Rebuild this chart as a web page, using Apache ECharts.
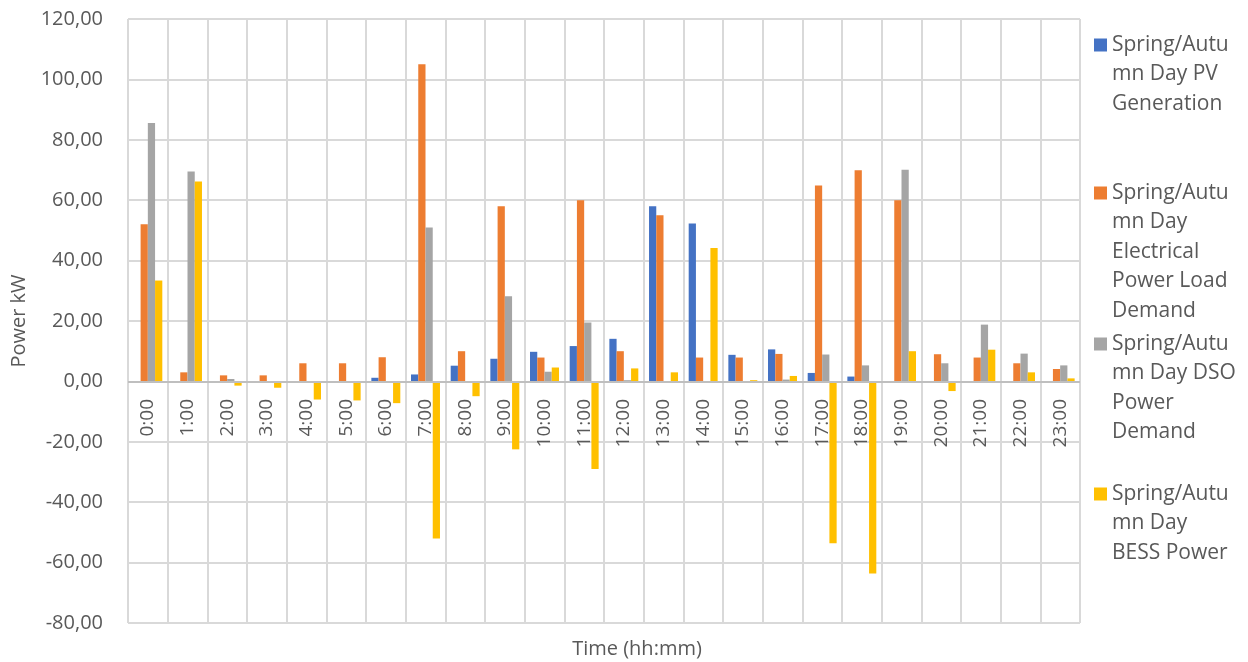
<!DOCTYPE html>
<html>
<head>
<meta charset="utf-8">
<script src="https://cdn.jsdelivr.net/npm/echarts@6/dist/echarts.min.js"></script>
<style>
html,body{margin:0;padding:0;background:#fff;}
#chart{width:1248px;height:662px;}
</style>
</head>
<body>
<div id="chart"></div>
<script>
// ---- data ----
const hours = ['0:00','1:00','2:00','3:00','4:00','5:00','6:00','7:00','8:00','9:00','10:00','11:00',
               '12:00','13:00','14:00','15:00','16:00','17:00','18:00','19:00','20:00','21:00','22:00','23:00'];
const seriesNames = ['Spring/Autumn Day PV Generation',
                     'Spring/Autumn Day Electrical Power Load Demand',
                     'Spring/Autumn Day DSO Power Demand',
                     'Spring/Autumn Day BESS Power'];
const legendLines = [
  ['Spring/Autu','mn Day PV','Generation'],
  ['Spring/Autu','mn Day','Electrical','Power Load','Demand'],
  ['Spring/Autu','mn Day DSO','Power','Demand'],
  ['Spring/Autu','mn Day','BESS Power']
];
const pvGeneration = [0,0,0,0,0,0,1.2,2.3,5.2,7.5,9.8,11.7,14.1,58.0,52.3,8.8,10.6,2.8,1.6,0,0,0,0,0];
const loadDemand   = [52.0,3.0,2.0,2.0,6.0,6.0,8.0,105.0,10.0,58.0,7.9,60.0,10.0,55.0,7.9,7.9,9.1,64.9,69.9,60.0,9.0,7.9,6.0,4.1];
const dsoDemand    = [85.6,69.5,0.8,0,0,0,0,51.0,0,28.2,3.2,19.5,0.4,0,0,0,0.6,8.9,5.3,70.1,6.0,18.8,9.2,5.3];
const bessPower    = [33.4,66.2,-1.4,-2.1,-6.0,-6.3,-7.2,-52.0,-4.9,-22.5,4.6,-29.0,4.3,3.0,44.2,0.4,1.8,-53.6,-63.6,10.0,-3.2,10.5,3.0,1.0];
const colors = ['#4472C4','#ED7D31','#A5A5A5','#FFC000'];

// ---- chart ----
const FONT = 'Open Sans';
const TXT = '#595959';
const LH = 29.5;
const legendFirstLineY = [45, 193, 344, 494];
const allData = [pvGeneration, loadDemand, dsoDemand, bessPower];

const legends = seriesNames.map((name, i) => {
  const n = legendLines[i].length;
  const blanks = new Array(n - 1).fill('');
  return {
    orient: 'vertical',
    left: 1094,
    top: legendFirstLineY[i] - (n - 0.5) * LH,
    padding: 0,
    icon: 'rect',
    itemWidth: 13,
    itemHeight: 13,
    itemGap: 0,
    selectedMode: false,
    data: [name],
    formatter: () => blanks.concat(legendLines[i]).join('\n'),
    textStyle: {fontFamily: FONT, fontSize: 21, color: TXT, lineHeight: LH}
  };
});

const chart = echarts.init(document.getElementById('chart'), null, {renderer: 'canvas'});
chart.setOption({
  animation: false,
  color: colors,
  textStyle: {fontFamily: FONT},
  title: {
    text: 'Time (hh:mm)',
    left: 637, top: 639,
    textAlign: 'center',
    padding: 0,
    textStyle: {fontFamily: FONT, fontSize: 20, fontWeight: 'normal', color: TXT}
  },
  legend: legends,
  grid: {left: 128, right: 168, top: 19, bottom: 39, containLabel: false, outerBoundsMode: 'none'},
  xAxis: {
    type: 'category',
    data: hours,
    position: 'bottom',
    axisLine: {show: false, onZero: false},
    axisTick: {show: false},
    axisLabel: {rotate: 90, margin: -224, fontFamily: FONT, fontSize: 19, color: TXT, interval: 0},
    splitLine: {show: true, interval: 0, lineStyle: {color: '#D9D9D9', width: 2}}
  },
  yAxis: {
    type: 'value',
    min: -80, max: 120, interval: 20,
    name: 'Power kW',
    nameLocation: 'middle',
    nameGap: 90,
    nameRotate: 90,
    nameTextStyle: {fontFamily: FONT, fontSize: 20, color: TXT},
    axisLine: {show: false},
    axisTick: {show: false},
    axisLabel: {margin: 25, fontFamily: FONT, fontSize: 20, color: TXT,
                formatter: v => v.toFixed(2).replace('.', ',')},
    splitLine: {show: true, lineStyle: {color: '#D9D9D9', width: 2}}
  },
  series: seriesNames.map((name, i) => {
    const s = {
      name: name,
      type: 'bar',
      data: allData[i],
      barGap: '0%',
      barCategoryGap: '27%',
      itemStyle: {color: colors[i]}
    };
    if (i === 0) {
      s.markLine = {
        silent: true, symbol: 'none', animation: false,
        label: {show: false},
        lineStyle: {color: '#BFBFBF', width: 2, type: 'solid'},
        data: [{yAxis: 0}]
      };
    }
    return s;
  })
});
</script>
</body>
</html>
